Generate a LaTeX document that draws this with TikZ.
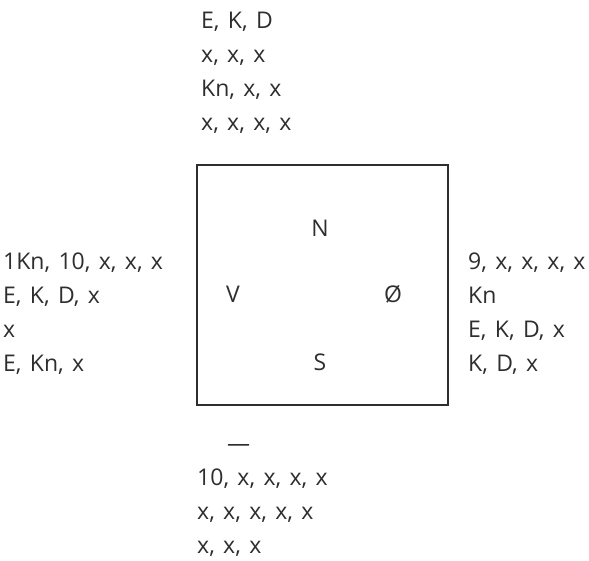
\documentclass[tikz,border=0pt]{standalone}
\usepackage{fontspec}
\setmainfont{Open Sans}[WordSpace=1.4]
\usetikzlibrary{positioning}
\definecolor{inkgray}{HTML}{2E2E2E}

\begin{document}
\begin{tikzpicture}[
  x=1pt, y=-1pt,
  hand/.style={anchor=base west, align=left, inner sep=0pt, text=inkgray, font=\fontsize{23}{34}\selectfont},
  seat/.style={inner sep=0pt, text=inkgray, font=\fontsize{23}{28}\selectfont},
  bordbox/.style={draw=inkgray, line width=1.1pt, minimum width=251pt, minimum height=240pt, inner sep=0pt}
]
\useasboundingbox (0,0) rectangle (589,560);
% the table with the four seats
\node[bordbox] (bord) at (322.5,285) {};
\node[seat] (nord) at (320,228) {N};
\node[seat] (vest) at (233,294) {V};
\node[seat] (ost) at (393,294) {Ø};
\node[seat] (syd) at (320,362) {S};
% the hands (base = last line)
\node[hand] (nordhand) at (201,130) {E, K, D\\x, x, x\\Kn, x, x\\x, x, x, x};
\node[hand] (vesthand) at (3,371) {1Kn, 10, x, x, x\\E, K, D, x\\x\\E, Kn, x};
\node[hand] (osthand) at (468,371) {9, x, x, x, x\\Kn\\E, K, D, x\\K, D, x};
\node[hand] (sydhand) at (197,553) {\hspace*{30pt}---\\10, x, x, x, x\\x, x, x, x, x\\x, x, x};
\end{tikzpicture}
\end{document}
